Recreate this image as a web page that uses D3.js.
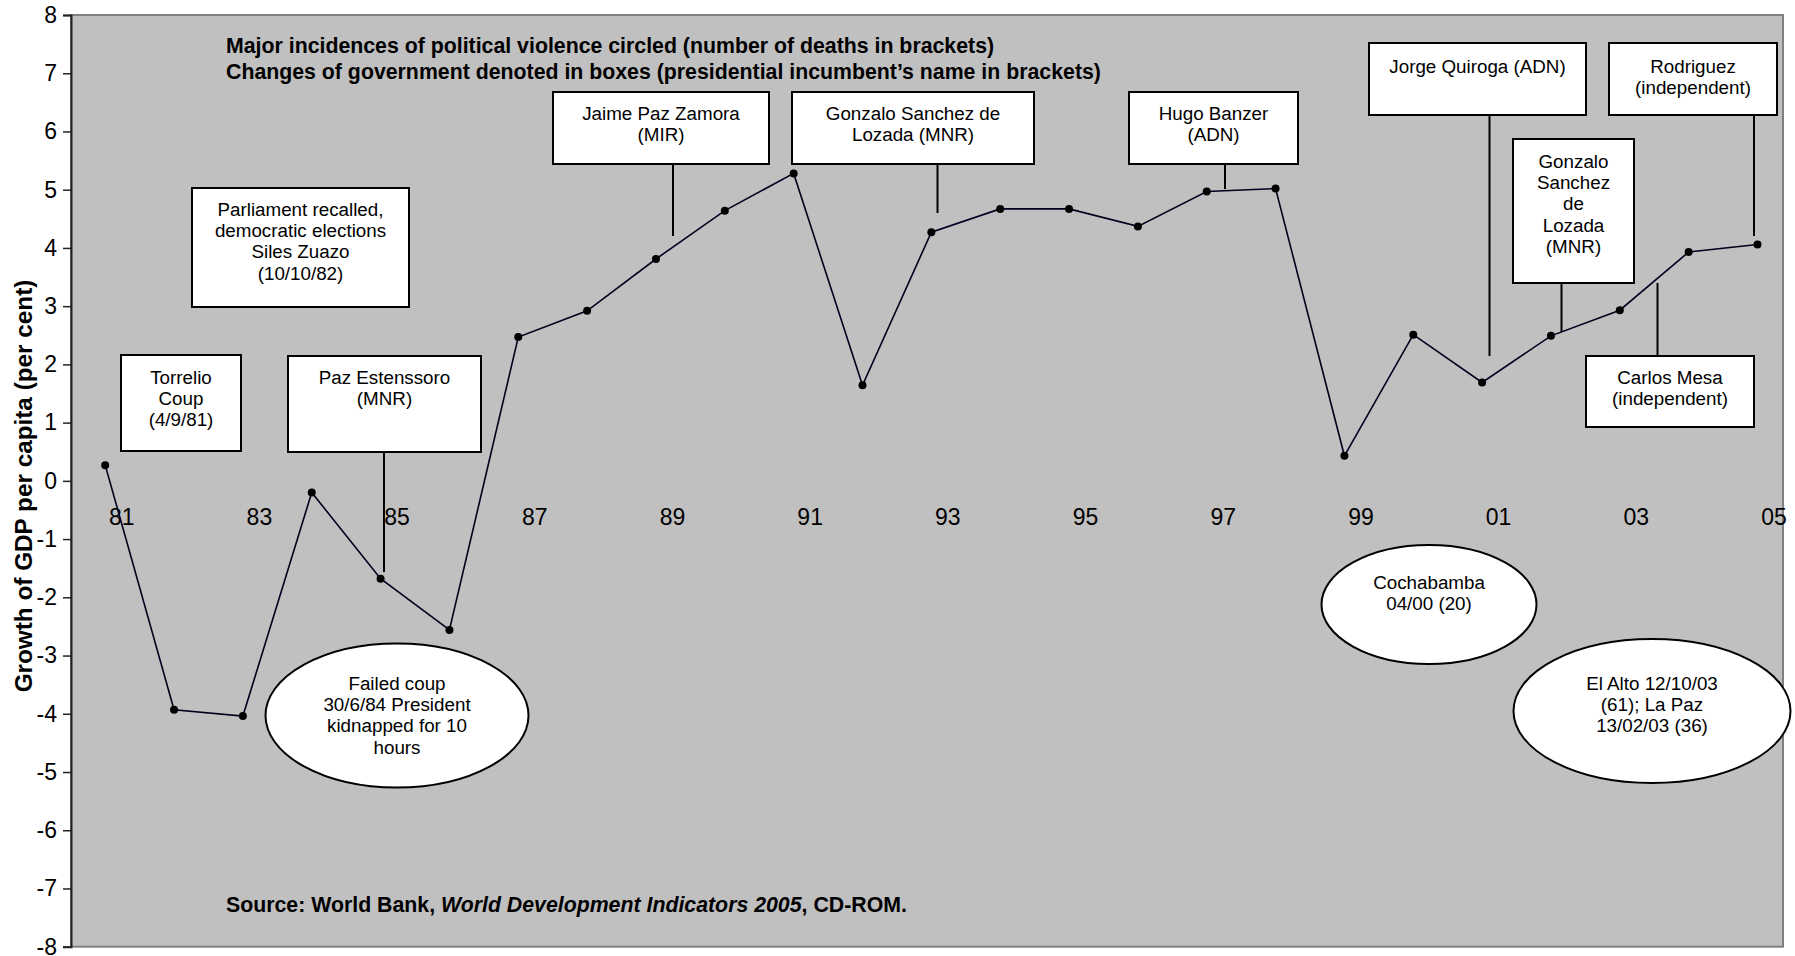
<!DOCTYPE html>
<html>
<head>
<meta charset="utf-8">
<script src="https://cdn.jsdelivr.net/npm/d3@7"></script>
<style>
    body { margin: 0; background: #fff; }
    text { font-family: "Liberation Sans", Arial, sans-serif; fill: #000; }
</style>
</head>
<body>
<div class="chart"></div>
<script>
// GDP per capita growth, Bolivia 1981-2005
var years = ['81', '82', '83', '84', '85', '86', '87', '88', '89', '90', '91', '92', '93',
    '94', '95', '96', '97', '98', '99', '00', '01', '02', '03', '04', '05'];
var growth = [0.27, -3.93, -4.04, -0.2, -1.68, -2.56, 2.47, 2.92, 3.81, 4.64, 5.28, 1.64, 4.27,
    4.67, 4.67, 4.37, 4.97, 5.02, 0.43, 2.51, 1.69, 2.49, 2.93, 3.93, 4.06];
var yearLabels = ['81', '83', '85', '87', '89', '91', '93', '95', '97', '99', '01', '03', '05'];
var yTicks = [-8, -7, -6, -5, -4, -3, -2, -1, 0, 1, 2, 3, 4, 5, 6, 7, 8];

var titleLines = [
    'Major incidences of political violence circled (number of deaths in brackets)',
    'Changes of government denoted in boxes (presidential incumbent\u2019s name in brackets)'
];
var boxTexts = [
    ['Torrelio', 'Coup', '(4/9/81)'],
    ['Parliament recalled,', 'democratic elections', 'Siles Zuazo', '(10/10/82)'],
    ['Paz Estenssoro', '(MNR)'],
    ['Jaime Paz Zamora', '(MIR)'],
    ['Gonzalo Sanchez de', 'Lozada (MNR)'],
    ['Hugo Banzer', '(ADN)'],
    ['Jorge Quiroga (ADN)'],
    ['Rodriguez', '(independent)'],
    ['Gonzalo', 'Sanchez', 'de', 'Lozada', '(MNR)'],
    ['Carlos Mesa', '(independent)']
];
var ellipseTexts = [
    ['Failed coup', '30/6/84 President', 'kidnapped for 10', 'hours'],
    ['Cochabamba', '04/00 (20)'],
    ['El Alto 12/10/03', '(61); La Paz', '13/02/03 (36)']
];

var chart = {
    draw: function () {
        this.defineComponents();
        this.addFrame();
        this.addAxises();
        this.addLine();
        this.addBoxes();
        this.addEllipses();
        this.addTexts();
    },
    defineComponents: function () {
        this.width = 1795;
        this.height = 956;
        this.plot = { left: 71, right: 1783, top: 15, bottom: 946.7 };

        this.svg = d3.select('.chart')
            .append('svg')
            .attr('width', this.width)
            .attr('height', this.height);

        this.x = d3.scalePoint()
            .domain(years)
            .range([105.2, 1757.5]);

        this.y = d3.scaleLinear()
            .domain([-8, 8])
            .range([this.plot.bottom, this.plot.top]);
    },
    addFrame: function () {
        var p = this.plot;
        this.svg.append('rect')
            .attr('x', p.left)
            .attr('y', p.top)
            .attr('width', p.right - p.left)
            .attr('height', p.bottom - p.top)
            .attr('fill', '#c0c0c0')
            .attr('stroke', '#808080')
            .attr('stroke-width', 2);
    },
    addAxises: function () {
        var yAxis = d3.axisLeft(this.y)
            .tickValues(yTicks)
            .tickSize(8)
            .tickPadding(6)
            .tickFormat(function (d) { return String(d); });
        var gy = this.svg.append('g')
            .attr('transform', 'translate(' + this.plot.left + ',0)')
            .call(yAxis);
        gy.select('.domain').attr('stroke', '#222').attr('stroke-width', 2);
        gy.selectAll('.tick line').attr('stroke', '#222').attr('stroke-width', 1.5);
        gy.selectAll('.tick text')
            .style('font-family', '"Liberation Sans", Arial, sans-serif')
            .style('font-size', '23px')
            .attr('fill', '#000');

        // category labels sit under the zero line, a little right of each point
        var xAxis = d3.axisBottom(this.x)
            .tickValues(yearLabels)
            .tickSize(0);
        var gx = this.svg.append('g')
            .attr('transform', 'translate(16,525)')
            .call(xAxis);
        gx.select('.domain').remove();
        gx.selectAll('.tick text')
            .attr('y', 0)
            .attr('dy', 0)
            .style('font-family', '"Liberation Sans", Arial, sans-serif')
            .style('font-size', '23px')
            .attr('fill', '#000');

        this.svg.append('text')
            .attr('transform', 'translate(32,486) rotate(-90)')
            .attr('text-anchor', 'middle')
            .style('font-size', '24.3px')
            .style('font-weight', 'bold')
            .text('Growth of GDP per capita (per cent)');
    },
    addLine: function () {
        var that = this;
        var data = years.map(function (d, i) { return { year: d, value: growth[i] }; });

        this.svg.append('path')
            .datum(data)
            .attr('fill', 'none')
            .attr('stroke', '#00001e')
            .attr('stroke-width', 1.6)
            .attr('d', d3.line()
                .x(function (d) { return that.x(d.year); })
                .y(function (d) { return that.y(d.value); }));

        this.svg.selectAll('.point')
            .data(data)
            .enter()
            .append('circle')
            .attr('class', 'point')
            .attr('cx', function (d) { return that.x(d.year); })
            .attr('cy', function (d) { return that.y(d.value); })
            .attr('r', 4)
            .attr('fill', '#000');
    },
    addBoxes: function () {
        var that = this;
        // x0, y0, x1, y1 of each box, first baseline, connector [x, y0, y1]
        var layout = [
            { box: [121, 355, 241, 451], base: 384, link: null },
            { box: [192, 188, 409, 307], base: 216, link: null },
            { box: [288, 356, 481, 452], base: 384, link: [384, 452, 572] },
            { box: [553, 92, 769, 164], base: 120, link: [673, 164, 236] },
            { box: [792, 92, 1034, 164], base: 120, link: [937.5, 164, 213] },
            { box: [1129, 92, 1298, 164], base: 120, link: [1225, 164, 189] },
            { box: [1369, 43, 1586, 115], base: 73, link: [1489.5, 115, 356] },
            { box: [1609, 43, 1777, 115], base: 73, link: [1754, 115, 236] },
            { box: [1513, 139, 1634, 283], base: 168, link: [1561.5, 283, 332] },
            { box: [1586, 356, 1754, 427], base: 384, link: [1657.5, 283, 356] }
        ];

        layout.forEach(function (l, i) {
            if (l.link) {
                that.svg.append('line')
                    .attr('x1', l.link[0]).attr('x2', l.link[0])
                    .attr('y1', l.link[1]).attr('y2', l.link[2])
                    .attr('stroke', '#000')
                    .attr('stroke-width', 2);
            }
            that.svg.append('rect')
                .attr('x', l.box[0])
                .attr('y', l.box[1])
                .attr('width', l.box[2] - l.box[0])
                .attr('height', l.box[3] - l.box[1])
                .attr('fill', '#fff')
                .attr('stroke', '#000')
                .attr('stroke-width', 2);
            that.addLines(boxTexts[i], (l.box[0] + l.box[2]) / 2, l.base);
        });
    },
    addEllipses: function () {
        var that = this;
        var layout = [
            { c: [397, 715.5], r: [131.5, 72], base: 690 },
            { c: [1429, 604.5], r: [107.5, 59.5], base: 589 },
            { c: [1652, 711], r: [138.5, 72], base: 690 }
        ];
        layout.forEach(function (l, i) {
            that.svg.append('ellipse')
                .attr('cx', l.c[0])
                .attr('cy', l.c[1])
                .attr('rx', l.r[0])
                .attr('ry', l.r[1])
                .attr('fill', '#fff')
                .attr('stroke', '#000')
                .attr('stroke-width', 2);
            that.addLines(ellipseTexts[i], l.c[0], l.base);
        });
    },
    addLines: function (lines, x, base) {
        var t = this.svg.append('text')
            .attr('text-anchor', 'middle')
            .style('font-size', '18.8px');
        lines.forEach(function (s, j) {
            t.append('tspan')
                .attr('x', x)
                .attr('y', base + j * 21.2)
                .text(s);
        });
    },
    addTexts: function () {
        var that = this;
        titleLines.forEach(function (s, i) {
            that.svg.append('text')
                .attr('x', 226)
                .attr('y', 53.3 + i * 25.2)
                .style('font-size', '21.3px')
                .style('font-weight', 'bold')
                .text(s);
        });

        var src = this.svg.append('text')
            .attr('x', 226)
            .attr('y', 912)
            .style('font-size', '21.3px')
            .style('font-weight', 'bold');
        src.append('tspan').text('Source: World Bank, ');
        src.append('tspan').style('font-style', 'italic').text('World Development Indicators 2005');
        src.append('tspan').text(', CD-ROM.');
    }
};

chart.draw();
</script>
</body>
</html>
